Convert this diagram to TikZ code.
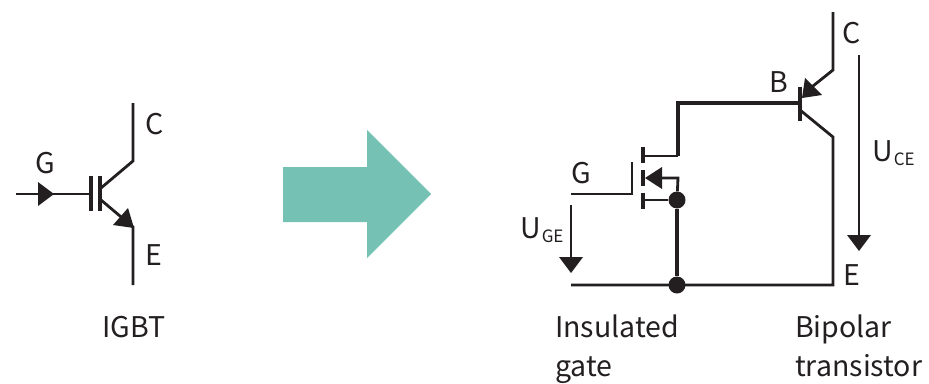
\documentclass[tikz,border=0pt]{standalone}
\usepackage{fontspec}
\setmainfont{Noto Sans CJK JP}
\definecolor{ink}{HTML}{231F20}
\definecolor{teal}{HTML}{75C2B5}
\tikzset{
  wire/.style={draw=ink,line width=2.8pt,line cap=butt,line join=miter},
  thick wire/.style={draw=ink,line width=3.4pt,line cap=butt,line join=miter},
  bar/.style={draw=ink,line width=3.4pt},
  head/.style={fill=ink,draw=none},
  dot/.style={circle,fill=ink,minimum size=17pt,inner sep=0pt},
  lab/.style={text=ink,font=\fontsize{28.5}{32}\selectfont,inner sep=0pt,anchor=base west},
}
\newcommand{\usub}[1]{U\kern1pt\raisebox{-4pt}{\fontsize{17}{20}\selectfont #1}}
\begin{document}
\begin{tikzpicture}[x=1pt,y=-1pt]
\useasboundingbox (0,0) rectangle (929,383);
% ---- IGBT symbol
\coordinate (lgin) at (16,194);
\coordinate (lgbar) at (91,194);
\coordinate (lgarrow) at (54,194);
\coordinate (lgb1) at (91,176);
\coordinate (lgb2) at (91,211);
\coordinate (lcb1) at (100,176);
\coordinate (lcb2) at (100,211);
\coordinate (lctop) at (133,103);
\coordinate (lcknee) at (133,161);
\coordinate (lcbase) at (101,188);
\coordinate (lebase) at (101,200);
\coordinate (leknee) at (133,227);
\coordinate (lebot) at (133,285);
\draw[wire] (lgin) -- (lgbar);
\draw[bar] (lgb1) -- (lgb2);
\draw[bar] (lcb1) -- (lcb2);
\draw[wire] (lctop) -- (lcknee) -- (lcbase);
\draw[wire] (lebase) -- (leknee) -- (lebot);
\fill[head] (38,182) -- (lgarrow) -- (38,206) -- cycle;
\fill[head] (113,225) -- (128,208) -- (134,228) -- cycle;
\node[lab] (lG) at (35,173) {G};
\node[lab] (lC) at (145,134) {C};
\node[lab] (lE) at (145,265) {E};
\node[lab] (tIGBT) at (102,337) {IGBT};
% ---- big arrow
\fill[teal] (283,167) -- (367,167) -- (367,130) -- (431,194) -- (367,258) -- (367,222) -- (283,222) -- cycle;
% ---- equivalent circuit
\node[dot] (d1) at (677,200) {};
\node[dot] (d2) at (677,285) {};
\coordinate (gin) at (571,194);
\coordinate (gk) at (632,194);
\coordinate (gt) at (632,162);
\coordinate (dr) at (643,156);
\coordinate (drk) at (678,156);
\coordinate (drt) at (678,103);
\coordinate (base) at (800,103);
\coordinate (sr) at (643,200);
\coordinate (sub) at (662,178);
\coordinate (subk) at (678,178);
\coordinate (bl) at (571,285);
\coordinate (br) at (833,285);
\coordinate (ek) at (833,137);
\coordinate (eb) at (800,110);
\coordinate (ct) at (833,12);
\coordinate (ck) at (833,70);
\coordinate (cb) at (808,90);
\draw[wire] (gin) -- (gk) -- (gt);
\draw[bar] (643,147) -- (643,163);
\draw[bar] (643,170) -- (643,186);
\draw[bar] (643,193) -- (643,209);
\draw[wire] (dr) -- (drk);
\draw[thick wire] (drk) -- (drt) -- (base);
\draw[wire] (sr) -- (d1);
\draw[wire] (sub) -- (subk) -- (d1);
\draw[thick wire] (d1) -- (d2);
\draw[wire] (bl) -- (br) -- (ek) -- (eb);
\draw[wire] (ct) -- (ck) -- (cb);
\draw[bar] (800,87) -- (800,121);
\fill[head] (645,178) -- (662,167) -- (662,189) -- cycle;
\fill[head] (802,98) -- (805,78) -- (822,95) -- cycle;
% voltage arrows
\coordinate (ugt) at (571,205);
\coordinate (ugb) at (571,258);
\coordinate (uct) at (859,55);
\coordinate (ucb) at (859,236);
\draw[draw=ink,line width=2.2pt] (ugt) -- (ugb);
\fill[head] (559,257) -- (583,257) -- (571,273) -- cycle;
\draw[draw=ink,line width=2.2pt] (uct) -- (ucb);
\fill[head] (847,235) -- (871,235) -- (859,251) -- cycle;
% labels
\node[lab] (rG) at (571,183) {G};
\node[lab] (rB) at (769,92) {B};
\node[lab] (rC) at (842,43) {C};
\node[lab] (rE) at (843,285) {E};
\node[lab] (uge) at (520,238) {\usub{GE}};
\node[lab] (uce) at (872,161) {\usub{CE}};
\node[lab] (t1) at (555,337) {Insulated};
\node[lab] (t1b) at (555,376) {gate};
\node[lab] (t2) at (795,337) {Bipolar};
\node[lab] (t2b) at (795,376) {transistor};
\end{tikzpicture}
\end{document}
